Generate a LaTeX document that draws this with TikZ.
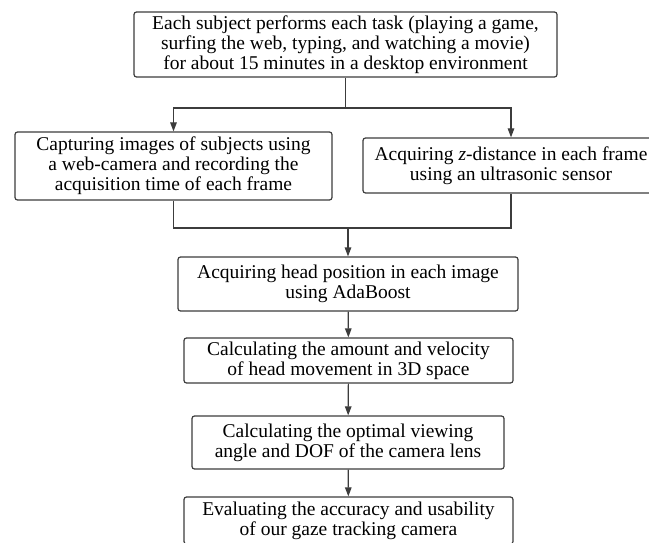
\documentclass[tikz,border=0pt]{standalone}
\usepackage{fontspec}
\setmainfont{Liberation Serif}
\usetikzlibrary{arrows.meta}
\definecolor{linec}{HTML}{3C3C3C}
\tikzset{
  box/.style={draw=linec, line width=1.2pt, rounded corners=2.5pt, inner sep=0pt, align=center,
    font=\fontsize{19.5}{20}\selectfont, text=black},
  conn/.style={draw=linec, line width=1.2pt},
  arr/.style={conn, -{Triangle[length=9pt,width=6.5pt]}}
}
\begin{document}
\begin{tikzpicture}[x=1pt,y=-1pt]
\useasboundingbox (0,0) rectangle (649,543);
\node[box, minimum width=423pt, minimum height=65pt] (top) at (345.5,44.5)
  {Each subject performs each task (playing a game,\\surfing the web, typing, and watching a movie)\\for about 15 minutes in a desktop environment};
\node[box, minimum width=317pt, minimum height=68pt] (left) at (173.5,166)
  {Capturing images of subjects using\\a web-camera and recording the\\acquisition time of each frame};
\node[box, minimum width=296pt, minimum height=55pt] (right) at (511,165.5)
  {Acquiring \textit{z}-distance in each frame\\using an ultrasonic sensor};
\node[box, minimum width=340pt, minimum height=54pt] (head) at (348,284)
  {Acquiring head position in each image\\using AdaBoost};
\node[box, minimum width=329pt, minimum height=45pt] (vel) at (348.5,360.5)
  {Calculating the amount and velocity\\of head movement in 3D space};
\node[box, minimum width=312pt, minimum height=53pt] (opt) at (348,442.5)
  {Calculating the optimal viewing\\angle and DOF of the camera lens};
\node[box, minimum width=329pt, minimum height=47pt] (eval) at (348.5,520.5)
  {Evaluating the accuracy and usability\\of our gaze tracking camera};
\coordinate (j1) at (345.5,108);
\coordinate (j2) at (348,228);
\draw[conn] (top) -- (j1);
\draw[arr] (j1) -| (left);
\draw[arr] (j1) -| (right);
\draw[conn] (left) |- (j2) -| (right);
\draw[arr] (j2) -- (head);
\draw[arr] (head) -- (vel);
\draw[arr] (vel) -- (opt);
\draw[arr] (opt) -- (eval);
\end{tikzpicture}
\end{document}
